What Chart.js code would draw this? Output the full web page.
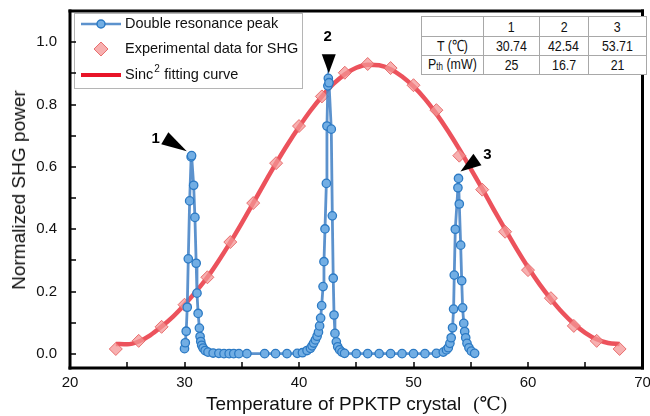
<!DOCTYPE html>
<html>
<head>
<meta charset="utf-8">
<script src="https://cdn.jsdelivr.net/npm/chart.js@4/dist/chart.umd.min.js"></script>
<style>
  html, body { margin: 0; padding: 0; background: #fff; }
  #wrap { position: relative; width: 650px; height: 416px; }
  #tbl { position: absolute; left: 421px; top: 16px; border-collapse: collapse; background: #fff;
         font-family: "Liberation Sans", Arial, sans-serif; table-layout: fixed;
         font-size: 15.5px; color: #111; }
  #tbl td { border: 1px solid #a8a8a8; text-align: center; padding: 0; line-height: 16px; white-space: nowrap; overflow: hidden; }
  #tbl td span { display: inline-block; transform: scaleX(0.8); transform-origin: center; }
  #tbl sub { font-size: 10px; vertical-align: baseline; position: relative; top: 1px; }
  .ttl { position: absolute; font-family: "Liberation Sans", Arial, sans-serif; font-size: 19px; color: #111; white-space: nowrap; line-height: 22px; }
  #xt { left: 206px; top: 393px; }
  #xt .u { font-family: "Liberation Serif", "DejaVu Serif", "Noto Sans CJK SC", serif; margin-left: 12px; }
  #yt { left: 19px; top: 190px; transform: translate(-50%, -50%) rotate(-90deg); }
</style>
</head>
<body>
<div id="wrap">
  <canvas id="c" width="650" height="416"></canvas>
  <table id="tbl"></table>
  <div class="ttl" id="xt">Temperature of PPKTP crystal<span class="u">(℃)</span></div>
  <div class="ttl" id="yt">Normalized SHG power</div>
</div>
<script>
// ---------------- data ----------------
// Double resonance peak (temperature sweep, in recorded order)
const resX = [30.00,30.07,30.15,30.24,30.33,30.45,30.58,30.62,
  30.80,30.91,31.02,31.09,31.19,31.30,31.36,31.42,31.50,31.62,31.80,32.05,32.50,
  33.00,33.45,33.90,34.30,34.75,35.45,37.00,37.95,38.95,39.85,
  40.30,40.70,41.00,41.14,41.28,41.43,41.58,41.70,41.80,41.89,41.98,42.10,42.18,42.27,42.39,42.44,42.52,42.56,
  42.62,42.82,42.91,42.99,43.06,43.14,43.26,43.38,43.55,43.75,43.98,
  45.00,46.00,47.00,48.00,49.00,50.00,51.00,52.00,
  52.60,52.88,53.04,53.18,53.29,53.41,53.50,53.56,53.65,53.88,53.93,
  54.00,54.12,54.21,54.29,54.39,54.47,54.56,54.67,54.84,55.05,55.34];
const resY = [0.017,0.036,0.073,0.150,0.305,0.491,0.632,0.636,
  0.541,0.438,0.291,0.195,0.130,0.083,0.056,0.040,0.028,0.019,0.011,0.006,0.003,
  0.002,0.001,0.001,0.001,0.001,0.001,0.001,0.001,0.001,0.002,
  0.004,0.011,0.018,0.026,0.035,0.045,0.057,0.070,0.090,0.115,0.155,0.216,0.296,0.401,0.547,0.731,0.860,0.884,
  0.870,0.721,0.443,0.243,0.125,0.066,0.039,0.023,0.013,0.006,0.002,
  0.001,0.001,0.001,0.001,0.001,0.001,0.001,0.002,
  0.006,0.013,0.020,0.034,0.052,0.084,0.144,0.253,0.400,0.533,0.563,
  0.481,0.349,0.235,0.148,0.098,0.072,0.052,0.034,0.020,0.009,0.002];

// Experimental data for SHG
const expX = [24,26,28,30,32,34,36,38,40,42,44,46,48,50,52,54,56,58,60,62,64,66,68];
const expY = [0.016,0.042,0.087,0.158,0.246,0.359,0.484,0.612,0.731,0.826,0.902,0.930,0.917,0.862,0.782,0.636,0.527,0.392,0.269,0.179,0.090,0.042,0.016];

// Sinc^2 fitting curve
const fitX = [24,25,26,27,28,29,30,31,32,33,34,35,36,37,38,39,40,41,42,43,44,45,46,47,48,49,50,51,52,53,54,55,56,57,58,59,60,61,62,63,64,65,66,67,68];
const fitY = [0.032,0.031,0.040,0.060,0.088,0.120,0.158,0.200,0.246,0.300,0.358,0.420,0.484,0.549,0.612,0.672,0.728,0.780,0.826,0.866,0.897,0.918,0.928,0.926,0.913,0.890,0.858,0.818,0.770,0.716,0.657,0.594,0.530,0.464,0.400,0.337,0.278,0.224,0.176,0.133,0.097,0.068,0.047,0.035,0.032];

const xTicks = [20,30,40,50,60,70];
const yTicks = [0.0,0.2,0.4,0.6,0.8,1.0];

// Table values
const peakIds = ['1','2','3'];
const peakT = ['30.74','42.54','53.71'];
const peakP = ['25','16.7','21'];

// Peak annotations (arrow tips in data coordinates)
const peakMarkX = [30.2, 42.6, 54.1];
const peakMarkY = [0.65, 0.90, 0.585];

// ---------------- table ----------------
(function buildTable(){
  const t = document.getElementById('tbl');
  const widths = [57,55,48,57];
  const heights = [19,18,17];
  const rows = [
    [''].concat(peakIds),
    ['T (\u2103)'].concat(peakT),
    ['P<sub>th</sub> (mW)'].concat(peakP)
  ];
  rows.forEach((r, ri) => {
    const tr = document.createElement('tr');
    r.forEach((v, ci) => {
      const td = document.createElement('td');
      td.innerHTML = '<span>' + v + '</span>';
      td.style.width = widths[ci] + 'px';
      td.style.height = heights[ri] + 'px';
      tr.appendChild(td);
    });
    t.appendChild(tr);
  });
})();

// ---------------- chart ----------------
const FONT = '"Liberation Sans", Arial, sans-serif';
const blueLine = 'rgba(74,134,200,0.9)';
const blueFill = '#72aee4';
const blueEdge = '#2c7ac4';
const redLine = 'rgba(232,44,56,0.82)';
const pinkFill = 'rgba(244,150,150,0.75)';
const pinkEdge = 'rgba(230,100,100,0.9)';

function drawLegend(ctx) {
  const lx = 74, ly = 13, lw = 228, lh = 75;
  ctx.fillStyle = '#fff'; ctx.fillRect(lx, ly, lw, lh);
  ctx.lineWidth = 1; ctx.strokeStyle = '#b5b5b5';
  ctx.strokeRect(lx + 0.5, ly + 0.5, lw, lh);
  const rowsY = [24, 49, 75];
  ctx.strokeStyle = blueLine; ctx.lineWidth = 2.5;
  ctx.beginPath(); ctx.moveTo(81, rowsY[0]); ctx.lineTo(121, rowsY[0]); ctx.stroke();
  ctx.beginPath(); ctx.arc(101, rowsY[0], 4, 0, Math.PI * 2);
  ctx.fillStyle = blueFill; ctx.fill(); ctx.strokeStyle = blueEdge; ctx.lineWidth = 1.5; ctx.stroke();
  ctx.beginPath();
  ctx.moveTo(101, rowsY[1] - 7); ctx.lineTo(108, rowsY[1]); ctx.lineTo(101, rowsY[1] + 7); ctx.lineTo(94, rowsY[1]); ctx.closePath();
  ctx.fillStyle = pinkFill; ctx.fill(); ctx.strokeStyle = pinkEdge; ctx.lineWidth = 1; ctx.stroke();
  ctx.strokeStyle = 'rgb(232,20,40)'; ctx.lineWidth = 4;
  ctx.beginPath(); ctx.moveTo(81, rowsY[2]); ctx.lineTo(121, rowsY[2]); ctx.stroke();
  ctx.fillStyle = '#111'; ctx.font = '14.5px ' + FONT; ctx.textBaseline = 'middle'; ctx.textAlign = 'left';
  ctx.fillText('Double resonance peak', 125, rowsY[0]);
  ctx.fillText('Experimental data for SHG', 125, rowsY[1]);
  ctx.fillText('Sinc', 125, rowsY[2]);
  const w = ctx.measureText('Sinc').width;
  ctx.font = '10px ' + FONT;
  ctx.fillText('2', 125 + w + 1, rowsY[2] - 6);
  ctx.font = '14.5px ' + FONT;
  ctx.fillText(' fitting curve', 125 + w + 7, rowsY[2]);
}

function drawFrame(chart) {
  const ctx = chart.ctx;
  const xs = chart.scales.x, ys = chart.scales.y;
  const ca = chart.chartArea;
  const L = ca.left, R = ca.right, T = ca.top, B = ca.bottom;
  ctx.save();
  ctx.fillStyle = '#000';
  for (let v = 20; v <= 70; v += 5) {
    const px = Math.round(xs.getPixelForValue(v));
    ctx.fillRect(px - 0.75, B - 6, 1.5, 6);
  }
  for (let i = 0; i <= 10; i++) {
    const py = Math.round(ys.getPixelForValue(i / 10));
    ctx.fillRect(L, py - 0.75, 6, 1.5);
  }
  const fw = 3;
  ctx.fillRect(L - fw / 2, T - fw / 2, R - L + fw, fw);
  ctx.fillRect(L - fw / 2, B - fw / 2, R - L + fw, fw);
  ctx.fillRect(L - fw / 2, T - fw / 2, fw, B - T + fw);
  ctx.fillRect(R - fw / 2, T - fw / 2, fw, B - T + fw);
  ctx.restore();
}

const decor = {
  id: 'decor',
  afterDraw(chart) {
    const ctx = chart.ctx;
    const xs = chart.scales.x, ys = chart.scales.y;

    ctx.save();
    drawLegend(ctx);
    ctx.restore();

    // peak arrows
    ctx.save();
    const arrowDefs = [
      { dx: -22, dy: -13, lx: -31, ly: -12 },
      { dx: 0, dy: -19, lx: -1, ly: -36 },
      { dx: 17, dy: -12, lx: 27, ly: -17 }
    ];
    ctx.fillStyle = '#000';
    ctx.font = 'bold 15px ' + FONT; ctx.textAlign = 'center'; ctx.textBaseline = 'middle';
    for (let i = 0; i < 3; i++) {
      const tx = xs.getPixelForValue(peakMarkX[i]);
      const ty = ys.getPixelForValue(peakMarkY[i]);
      const d = arrowDefs[i];
      const bx = tx + d.dx, by = ty + d.dy;
      const len = Math.hypot(d.dx, d.dy);
      const nx = -d.dy / len, ny = d.dx / len;
      const hw = 7;
      ctx.beginPath();
      ctx.moveTo(tx, ty);
      ctx.lineTo(bx + nx * hw, by + ny * hw);
      ctx.lineTo(bx - nx * hw, by - ny * hw);
      ctx.closePath(); ctx.fill();
      ctx.fillText(peakIds[i], tx + d.lx, ty + d.ly);
    }
    ctx.restore();

    drawFrame(chart);
  }
};

const toPts = (xa, ya) => xa.map((x, i) => ({ x, y: ya[i] }));
const zeroPad = s => { s.paddingTop = 0; s.paddingBottom = 0; s.paddingLeft = 0; s.paddingRight = 0; };

new Chart(document.getElementById('c'), {
  type: 'scatter',
  data: {
    datasets: [
      {
        label: 'Double resonance peak',
        data: toPts(resX, resY),
        showLine: true,
        borderColor: blueLine, borderWidth: 2.8,
        pointRadius: 4.2, pointBackgroundColor: blueFill, pointBorderColor: blueEdge, pointBorderWidth: 1.3,
        order: 1
      },
      {
        label: 'Experimental data for SHG',
        data: toPts(expX, expY),
        pointStyle: 'rectRot', pointRadius: 6.5,
        pointBackgroundColor: pinkFill, pointBorderColor: pinkEdge, pointBorderWidth: 1,
        order: 2
      },
      {
        label: 'Sinc2 fitting curve',
        data: toPts(fitX, fitY),
        showLine: true, pointRadius: 0,
        borderColor: redLine, borderWidth: 4.5,
        cubicInterpolationMode: 'monotone',
        order: 3
      }
    ]
  },
  options: {
    responsive: false, animation: false, devicePixelRatio: 1,
    layout: { padding: { top: 11, right: 6, left: 0, bottom: 0 } },
    plugins: { legend: { display: false }, tooltip: { enabled: false } },
    scales: {
      x: {
        type: 'linear', min: 20, max: 70,
        afterFit(s) { s.height = 48; zeroPad(s); },
        afterBuildTicks(s) { s.ticks = xTicks.map(v => ({ value: v })); },
        grid: { display: false, drawTicks: false },
        border: { display: false },
        ticks: { padding: 6, color: '#111', font: { family: FONT, size: 15 } }
      },
      y: {
        type: 'linear', min: -0.045, max: 1.1,
        afterFit(s) { s.width = 70; zeroPad(s); },
        afterBuildTicks(s) { s.ticks = yTicks.map(v => ({ value: v })); },
        grid: { display: false, drawTicks: false },
        border: { display: false },
        ticks: { padding: 13, color: '#111', font: { family: FONT, size: 15 },
                 callback: v => Number(v).toFixed(1) }
      }
    }
  },
  plugins: [decor]
});
</script>
</body>
</html>
